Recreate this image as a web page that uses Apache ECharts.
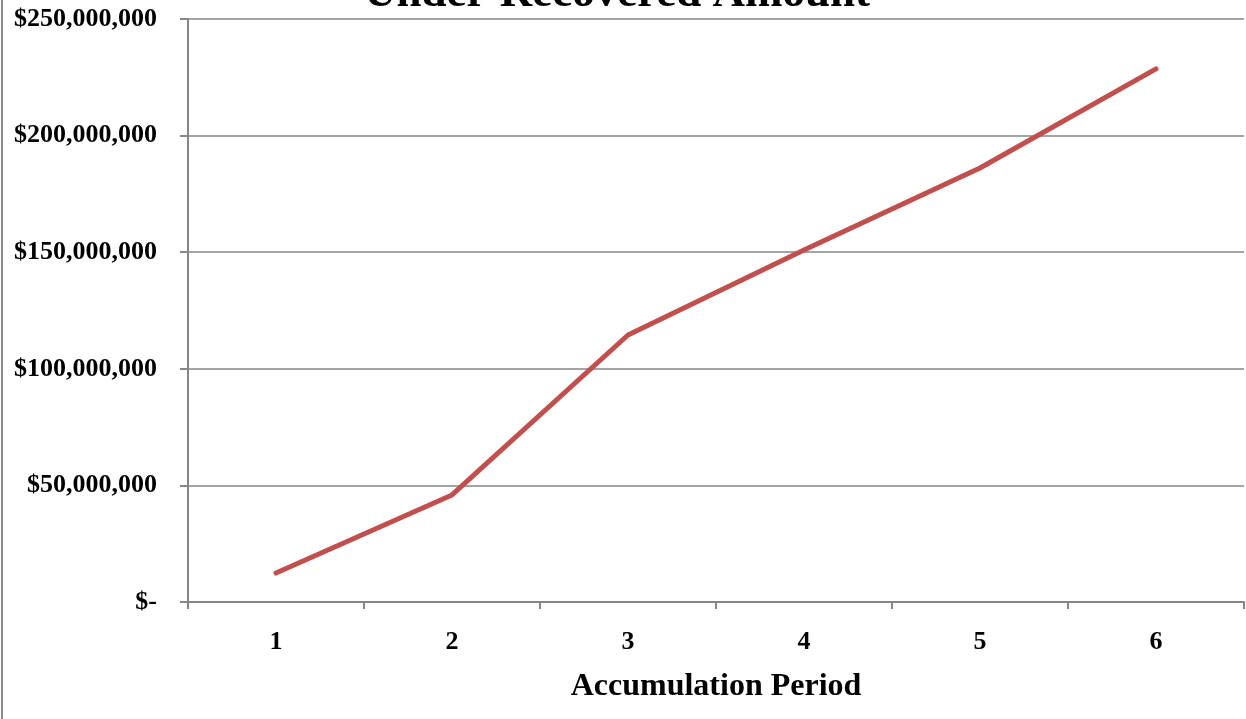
<!DOCTYPE html>
<html>
<head>
<meta charset="utf-8">
<style>
  html, body { margin: 0; padding: 0; background: #fff; }
  #chart { width: 1246px; height: 719px; }
</style>
<script src="https://cdn.jsdelivr.net/npm/echarts@6/dist/echarts.min.js"></script>
</head>
<body>
<div id="chart"></div>
<script>
// Accumulation periods and the running under-recovered balance for each
const periods = ['1', '2', '3', '4', '5', '6'];
const underRecovered = [12400000, 45900000, 114500000, 150900000, 186100000, 228600000];
const yTicks = [0, 50000000, 100000000, 150000000, 200000000, 250000000];

const serif = '"Liberation Serif", "Times New Roman", serif';

function money(v) {
  if (v === 0) return '$-';
  return '$' + v.toLocaleString('en-US');
}

const chart = echarts.init(document.getElementById('chart'), null, { renderer: 'canvas' });
chart.setOption({
  animation: false,
  backgroundColor: '#ffffff',
  title: {
    text: 'Under-Recovered Amount',
    left: 612,
    textAlign: 'center',
    top: -33,
    textStyle: { fontFamily: serif, fontWeight: 'bold', fontSize: 45, color: '#000' }
  },
  graphic: [{
    type: 'line',
    shape: { x1: 2, y1: 0, x2: 2, y2: 719 },
    style: { stroke: '#8a8a8a', lineWidth: 2 }
  }],
  grid: { left: 188, right: 2, top: 19, bottom: 117 },
  xAxis: {
    type: 'category',
    data: periods,
    boundaryGap: true,
    name: 'Accumulation Period',
    nameLocation: 'middle',
    nameGap: 69,
    nameTextStyle: { fontFamily: serif, fontWeight: 'bold', fontSize: 32, color: '#000' },
    axisLine: { lineStyle: { color: '#868686', width: 2 } },
    axisTick: { show: true, length: 7, lineStyle: { color: '#868686', width: 2 } },
    axisLabel: { fontFamily: serif, fontWeight: 'bold', fontSize: 26, color: '#000', margin: 27 },
    splitLine: { show: false }
  },
  yAxis: {
    type: 'value',
    min: 0,
    max: 250000000,
    interval: 50000000,
    axisLine: { show: true, lineStyle: { color: '#868686', width: 2 } },
    axisTick: { show: true, length: 8, lineStyle: { color: '#868686', width: 2 } },
    axisLabel: {
      fontFamily: serif, fontWeight: 'bold', fontSize: 26, color: '#000', margin: 31,
      formatter: function (v) { return yTicks.indexOf(v) >= 0 ? money(v) : ''; }
    },
    splitLine: { show: true, lineStyle: { color: '#868686', width: 1.5 } }
  },
  series: [{
    type: 'line',
    data: underRecovered,
    symbol: 'none',
    lineStyle: { color: '#C0504D', width: 5, cap: 'round', join: 'round' },
    itemStyle: { color: '#C0504D' }
  }]
});
</script>
</body>
</html>
